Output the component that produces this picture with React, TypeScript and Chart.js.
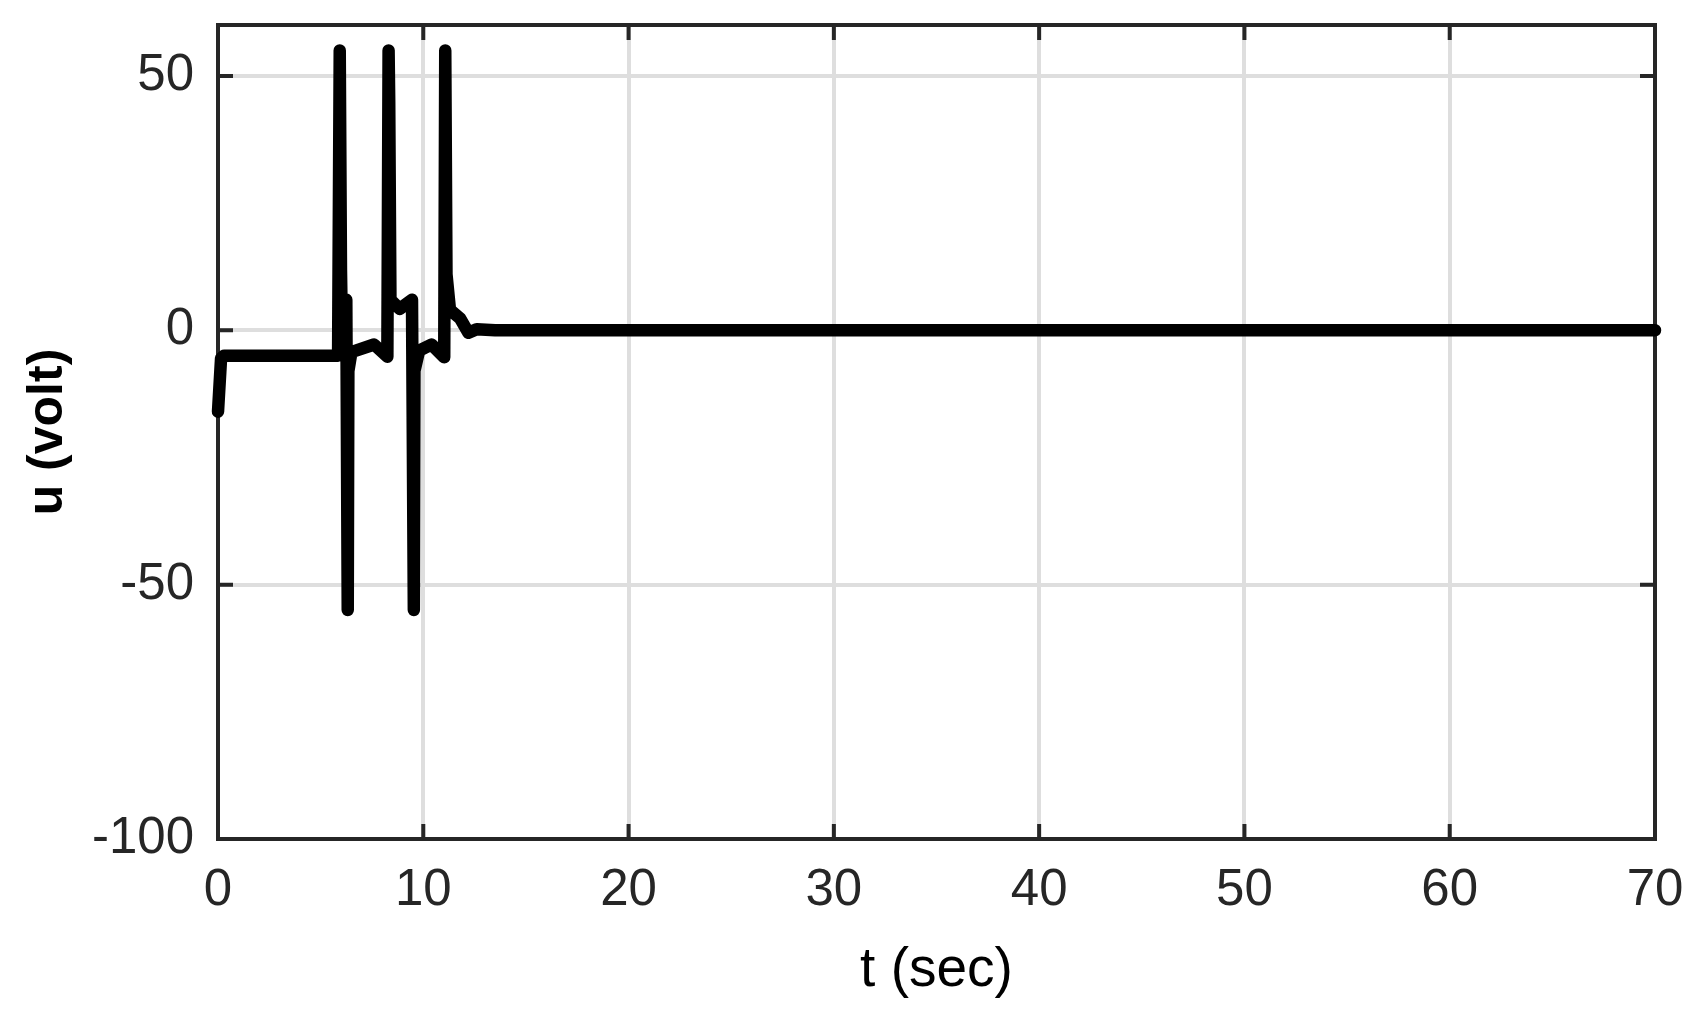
import React, { useEffect, useRef } from "react";
import { Chart, registerables } from "chart.js";

Chart.register(...registerables);

// ---- data ----
const tValues = [
  0, 0.15, 0.3, 5.85, 5.93, 5.99, 6.05, 6.25, 6.32, 6.35, 6.5, 7.6, 8.25, 8.31,
  8.34, 8.4, 8.85, 9.45, 9.54, 9.57, 9.8, 10.4, 11.02, 11.07, 11.13, 11.3, 11.8,
  12.2, 12.6, 13.5, 20, 30, 40, 50, 60, 70,
];
const uValues = [
  -16, -5.5, -5, -5, 55, 12, -4, 6, -55, -8, -4.3, -2.8, -5.2, 55,
  45, 6, 4.2, 6, -55, -8, -4, -2.8, -5.3, 55, 11, 4, 2.3,
  -0.5, 0.2, 0, 0, 0, 0, 0, 0, 0,
];
const xTickValues = [0, 10, 20, 30, 40, 50, 60, 70];
const yTickValues = [-100, -50, 0, 50];
const xMin = 0;
const xMax = 70;
const yMin = -100;
const yMax = 60;
const xAxisLabel = "t (sec)";
const yAxisLabel = "u (volt)";

const W = 1702;
const H = 1022;
const FONT = "'Liberation Sans', Arial, Helvetica, sans-serif";

const boxPlugin = {
  id: "matlabBox",
  beforeDatasetsDraw(chart: any) {
    const { ctx, chartArea: a, scales } = chart;
    const L = 15;
    ctx.save();
    ctx.strokeStyle = "#262626";
    ctx.lineWidth = 4;
    ctx.lineCap = "butt";
    ctx.beginPath();
    scales.x.ticks.forEach((t: any) => {
      const px = scales.x.getPixelForValue(t.value);
      ctx.moveTo(px, a.bottom);
      ctx.lineTo(px, a.bottom - L);
      ctx.moveTo(px, a.top);
      ctx.lineTo(px, a.top + L);
    });
    scales.y.ticks.forEach((t: any) => {
      const py = scales.y.getPixelForValue(t.value);
      ctx.moveTo(a.left, py);
      ctx.lineTo(a.left + L, py);
      ctx.moveTo(a.right, py);
      ctx.lineTo(a.right - L, py);
    });
    ctx.stroke();
    ctx.strokeRect(a.left, a.top, a.right - a.left, a.bottom - a.top);
    ctx.restore();
  },
};

export default function App() {
  const canvasRef = useRef<HTMLCanvasElement | null>(null);

  useEffect(() => {
    if (!canvasRef.current) return;
    const points = tValues.map((t, i) => ({ x: t, y: uValues[i] }));
    const chart = new Chart(canvasRef.current, {
      type: "line",
      data: {
        datasets: [
          {
            data: points,
            borderColor: "#000000",
            backgroundColor: "#000000",
            borderWidth: 12.5,
            pointRadius: 0,
            borderCapStyle: "round",
            borderJoinStyle: "round",
            tension: 0,
            fill: false,
            clip: false as any,
          },
        ],
      },
      options: {
        animation: false,
        responsive: false,
        devicePixelRatio: 1,
        events: [],
        layout: { padding: { top: 25, right: 47, left: 0, bottom: 0 } },
        plugins: {
          legend: { display: false },
          tooltip: { enabled: false },
        },
        scales: {
          x: {
            type: "linear",
            min: xMin,
            max: xMax,
            afterBuildTicks: (s: any) => {
              s.ticks = xTickValues.map((v) => ({ value: v }));
            },
            afterFit: (s: any) => {
              s.height = 183;
              s.paddingLeft = 0;
              s.paddingRight = 0;
              s.paddingTop = 0;
              s.paddingBottom = 0;
            },
            grid: { color: "#dedede", lineWidth: 4, drawTicks: false },
            border: { display: false },
            ticks: {
              color: "#262626",
              padding: 21,
              maxRotation: 0,
              autoSkip: false,
              font: { family: FONT, size: 51 },
              callback: (v: any) => String(v),
            },
            title: {
              display: true,
              text: xAxisLabel,
              color: "#000000",
              font: { family: FONT, size: 55 },
              padding: { top: 0, bottom: 18 },
            },
          },
          y: {
            type: "linear",
            min: yMin,
            max: yMax,
            afterBuildTicks: (s: any) => {
              s.ticks = yTickValues.map((v) => ({ value: v }));
            },
            afterFit: (s: any) => {
              s.width = 218;
              s.paddingLeft = 0;
              s.paddingRight = 0;
              s.paddingTop = 0;
              s.paddingBottom = 0;
            },
            grid: { color: "#dedede", lineWidth: 4, drawTicks: false },
            border: { display: false },
            ticks: {
              color: "#262626",
              padding: 24,
              autoSkip: false,
              font: { family: FONT, size: 51 },
              callback: (v: any) => String(v),
            },
            title: {
              display: true,
              text: yAxisLabel,
              color: "#000000",
              font: { family: FONT, size: 50, weight: "bold" },
              padding: { top: 18, bottom: 0 },
            },
          },
        },
      },
      plugins: [boxPlugin],
    });
    return () => chart.destroy();
  }, []);

  return (
    <div style={{ position: "absolute", left: 0, top: 0, width: W, height: H, background: "#fff" }}>
      <canvas ref={canvasRef} width={W} height={H} style={{ display: "block", width: W, height: H }} />
    </div>
  );
}
